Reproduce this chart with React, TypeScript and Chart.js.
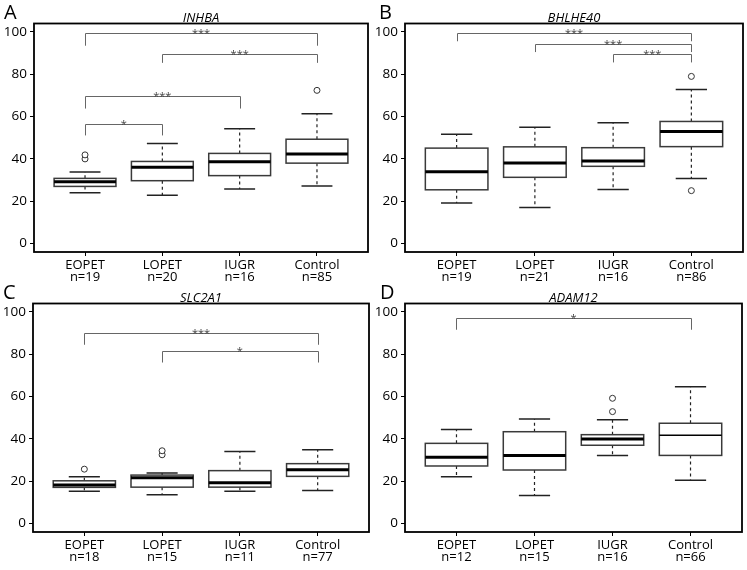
import React, { useEffect, useRef } from 'react';
import { Chart, registerables } from 'chart.js';

Chart.register(...registerables);

const categories = ['EOPET', 'LOPET', 'IUGR', 'Control'];
const yTickValues = [0, 20, 40, 60, 80, 100];

// Panel A — INHBA
const titleA = 'INHBA';
const nA = [19, 20, 16, 85];
const lowA = [24.0, 22.8, 25.8, 27.2];
const q1A = [27.0, 29.7, 32.1, 38.0];
const medA = [29.2, 36.1, 38.7, 42.3];
const q3A = [30.8, 38.8, 42.6, 49.3];
const highA = [33.8, 47.3, 54.3, 61.4];
const outA = [[40.0, 41.9], [], [], [72.4]];
const sigFromA = ['EOPET', 'LOPET', 'EOPET', 'EOPET'];
const sigToA = ['Control', 'Control', 'IUGR', 'LOPET'];
const sigTopA = [99.5, 89.6, 69.6, 56.6];
const sigFootA = [93.5, 85.4, 63.8, 51.1];
const sigLabelA = ['***', '***', '***', '*'];

// Panel B — BHLHE40
const titleB = 'BHLHE40';
const nB = [19, 21, 16, 86];
const lowB = [19.2, 17.0, 25.5, 30.7];
const q1B = [25.4, 31.3, 36.5, 45.8];
const medB = [33.9, 38.1, 39.0, 52.9];
const q3B = [45.1, 45.7, 45.3, 57.7];
const highB = [51.6, 55.0, 57.1, 72.8];
const outB = [[], [], [], [79.0, 25.0]];
const sigFromB = ['EOPET', 'LOPET', 'IUGR'];
const sigToB = ['Control', 'Control', 'Control'];
const sigTopB = [99.5, 94.2, 89.5];
const sigFootB = [95.6, 90.5, 85.6];
const sigLabelB = ['***', '***', '***'];

// Panel C — SLC2A1
const titleC = 'SLC2A1';
const nC = [18, 15, 11, 77];
const lowC = [15.3, 13.6, 15.3, 15.6];
const q1C = [17.1, 17.2, 17.2, 22.3];
const medC = [18.2, 21.6, 19.3, 25.4];
const q3C = [20.2, 22.9, 25.0, 28.3];
const highC = [22.1, 23.9, 34.0, 34.9];
const outC = [[25.7], [32.5, 34.4], [], []];
const sigFromC = ['EOPET', 'LOPET'];
const sigToC = ['Control', 'Control'];
const sigTopC = [90.0, 81.7];
const sigFootC = [84.5, 76.1];
const sigLabelC = ['***', '*'];

// Panel D — ADAM12
const titleD = 'ADAM12';
const nD = [12, 15, 16, 66];
const lowD = [22.1, 13.3, 32.1, 20.5];
const q1D = [27.2, 25.3, 37.0, 32.2];
const medD = [31.3, 32.2, 40.0, 41.7];
const q3D = [37.9, 43.4, 42.0, 47.4];
const highD = [44.5, 49.4, 49.0, 64.6];
const outD = [[], [], [52.9, 59.2], []];
const sigFromD = ['EOPET'];
const sigToD = ['Control'];
const sigTopD = [97.2];
const sigFootD = [91.6];
const sigLabelD = ['*'];

type Panel = {
  letter: string;
  title: string;
  n: number[];
  low: number[];
  q1: number[];
  med: number[];
  q3: number[];
  high: number[];
  out: number[][];
  sigFrom: string[];
  sigTo: string[];
  sigTop: number[];
  sigFoot: number[];
  sigLabel: string[];
};

const panels: Panel[] = [
  { letter: 'A', title: titleA, n: nA, low: lowA, q1: q1A, med: medA, q3: q3A, high: highA, out: outA, sigFrom: sigFromA, sigTo: sigToA, sigTop: sigTopA, sigFoot: sigFootA, sigLabel: sigLabelA },
  { letter: 'B', title: titleB, n: nB, low: lowB, q1: q1B, med: medB, q3: q3B, high: highB, out: outB, sigFrom: sigFromB, sigTo: sigToB, sigTop: sigTopB, sigFoot: sigFootB, sigLabel: sigLabelB },
  { letter: 'C', title: titleC, n: nC, low: lowC, q1: q1C, med: medC, q3: q3C, high: highC, out: outC, sigFrom: sigFromC, sigTo: sigToC, sigTop: sigTopC, sigFoot: sigFootC, sigLabel: sigLabelC },
  { letter: 'D', title: titleD, n: nD, low: lowD, q1: q1D, med: medD, q3: q3D, high: highD, out: outD, sigFrom: sigFromD, sigTo: sigToD, sigTop: sigTopD, sigFoot: sigFootD, sigLabel: sigLabelD },
];

// layout / style (not data)
const layouts = [
  { left: 0, top: 0, width: 373, yW: 34, padR: 5, letterX: 4, medW: [3, 3, 3, 3] },
  { left: 373, top: 0, width: 374, yW: 32, padR: 4, letterX: 6, medW: [3, 3, 3, 3] },
  { left: 0, top: 280, width: 373, yW: 33, padR: 4, letterX: 3, medW: [3, 3, 3, 3] },
  { left: 373, top: 280, width: 374, yW: 32, padR: 5, letterX: 7, medW: [3, 3, 3, 1.6] },
];
const CANVAS_H = 290;
const PAD_T = 23.5;
const X_H = 38;
const FONT = '"Open Sans", "DejaVu Sans", sans-serif';

function makePlugin(p: Panel, lay: typeof layouts[number]) {
  return {
    id: 'boxplot' + p.letter,
    beforeDatasetsDraw(chart: any) {
      const ctx = chart.ctx as CanvasRenderingContext2D;
      const xs = chart.scales.x;
      const ys = chart.scales.y;
      const ux = xs.getPixelForValue(2) - xs.getPixelForValue(1);
      ctx.save();
      categories.forEach((_, i) => {
        const cx = xs.getPixelForValue(i + 1);
        const hw = 0.4 * ux;
        const cw = 0.2 * ux;
        const yLow = ys.getPixelForValue(p.low[i]);
        const yQ1 = ys.getPixelForValue(p.q1[i]);
        const yMed = ys.getPixelForValue(p.med[i]);
        const yQ3 = ys.getPixelForValue(p.q3[i]);
        const yHigh = ys.getPixelForValue(p.high[i]);
        // whiskers
        ctx.strokeStyle = '#222';
        ctx.lineWidth = 1.2;
        ctx.setLineDash([3, 3]);
        ctx.beginPath();
        ctx.moveTo(cx, yQ3);
        ctx.lineTo(cx, yHigh);
        ctx.moveTo(cx, yQ1);
        ctx.lineTo(cx, yLow);
        ctx.stroke();
        ctx.setLineDash([]);
        ctx.lineWidth = 1.5;
        ctx.beginPath();
        ctx.moveTo(cx - cw, yHigh);
        ctx.lineTo(cx + cw, yHigh);
        ctx.moveTo(cx - cw, yLow);
        ctx.lineTo(cx + cw, yLow);
        ctx.stroke();
        // box
        ctx.fillStyle = '#fff';
        ctx.fillRect(cx - hw, yQ3, 2 * hw, yQ1 - yQ3);
        ctx.strokeStyle = '#3a3a3a';
        ctx.lineWidth = 1.5;
        ctx.strokeRect(cx - hw, yQ3, 2 * hw, yQ1 - yQ3);
        // median
        ctx.strokeStyle = '#000';
        ctx.lineWidth = lay.medW[i];
        ctx.beginPath();
        ctx.moveTo(cx - hw, yMed);
        ctx.lineTo(cx + hw, yMed);
        ctx.stroke();
      });
      ctx.restore();
    },
    afterDatasetsDraw(chart: any) {
      const ctx = chart.ctx as CanvasRenderingContext2D;
      const xs = chart.scales.x;
      const ys = chart.scales.y;
      ctx.save();
      p.sigFrom.forEach((from, k) => {
        const x1 = xs.getPixelForValue(categories.indexOf(from) + 1);
        const x2 = xs.getPixelForValue(categories.indexOf(p.sigTo[k]) + 1);
        const yT = Math.round(ys.getPixelForValue(p.sigTop[k])) + 0.5;
        const yF = ys.getPixelForValue(p.sigFoot[k]);
        ctx.strokeStyle = '#666';
        ctx.lineWidth = 1;
        ctx.beginPath();
        ctx.moveTo(Math.round(x1) + 0.5, yF);
        ctx.lineTo(Math.round(x1) + 0.5, yT);
        ctx.lineTo(Math.round(x2) + 0.5, yT);
        ctx.lineTo(Math.round(x2) + 0.5, yF);
        ctx.stroke();
        ctx.fillStyle = '#444';
        ctx.font = '11px ' + FONT;
        ctx.textAlign = 'center';
        ctx.textBaseline = 'alphabetic';
        ctx.fillText(p.sigLabel[k], (x1 + x2) / 2, yT + 3);
      });
      ctx.restore();
    },
    afterDraw(chart: any) {
      const ctx = chart.ctx as CanvasRenderingContext2D;
      const a = chart.chartArea;
      ctx.save();
      ctx.strokeStyle = '#000';
      ctx.lineWidth = 1.8;
      ctx.strokeRect(a.left, a.top, a.right - a.left, a.bottom - a.top);
      ctx.fillStyle = '#000';
      ctx.textBaseline = 'alphabetic';
      ctx.textAlign = 'center';
      ctx.font = 'italic 13px ' + FONT;
      ctx.fillText(p.title, (a.left + a.right) / 2, a.top - 2);
      ctx.textAlign = 'left';
      ctx.font = '20px ' + FONT;
      ctx.fillText(p.letter, lay.letterX, a.top - 4.5);
      ctx.restore();
    },
  };
}

function BoxPanel({ p, lay }: { p: Panel; lay: typeof layouts[number] }) {
  const ref = useRef<HTMLCanvasElement | null>(null);
  useEffect(() => {
    if (!ref.current) return;
    const points: { x: number; y: number }[] = [];
    p.out.forEach((vals, i) => vals.forEach((v) => points.push({ x: i + 1, y: v })));
    const chart = new Chart(ref.current, {
      type: 'scatter',
      data: {
        datasets: [
          {
            data: points,
            pointRadius: 3,
            pointHoverRadius: 3,
            pointBackgroundColor: '#fff',
            pointBorderColor: '#333',
            pointBorderWidth: 1,
            showLine: false,
          },
        ],
      },
      options: {
        animation: false,
        responsive: false,
        devicePixelRatio: 1,
        events: [],
        layout: { padding: { left: 0, top: PAD_T, right: lay.padR, bottom: 0 } },
        plugins: { legend: { display: false }, tooltip: { enabled: false }, title: { display: false } },
        scales: {
          x: {
            type: 'linear',
            min: 0.34,
            max: 4.66,
            afterBuildTicks: (s: any) => {
              s.ticks = categories.map((_, i) => ({ value: i + 1 }));
            },
            afterFit: (s: any) => {
              s.height = X_H;
            },
            border: { display: false },
            grid: { drawOnChartArea: false, drawTicks: true, tickLength: 4, color: '#000', lineWidth: 1 },
            ticks: {
              autoSkip: false,
              maxRotation: 0,
              padding: 3,
              color: '#000',
              font: { family: FONT, size: 13, lineHeight: '12px' as any },
              callback: (v: any) => {
                const i = Math.round(Number(v)) - 1;
                return [categories[i], 'n=' + p.n[i]];
              },
            },
          },
          y: {
            type: 'linear',
            min: -4,
            max: 104,
            afterBuildTicks: (s: any) => {
              s.ticks = yTickValues.map((v) => ({ value: v }));
            },
            afterFit: (s: any) => {
              s.width = lay.yW;
            },
            border: { display: false },
            grid: { drawOnChartArea: false, drawTicks: true, tickLength: 4, color: '#000', lineWidth: 1 },
            ticks: {
              padding: 3,
              color: '#000',
              font: { family: FONT, size: 13.5 },
              callback: (v: any) => String(v),
            },
          },
        },
      },
      plugins: [makePlugin(p, lay)],
    } as any);
    return () => chart.destroy();
  }, [p, lay]);
  return (
    <canvas
      ref={ref}
      width={lay.width}
      height={CANVAS_H}
      style={{ position: 'absolute', left: lay.left, top: lay.top, width: lay.width, height: CANVAS_H }}
    />
  );
}

export default function App() {
  return (
    <div style={{ position: 'absolute', left: 0, top: 0, width: 747, height: 570, background: '#fff', overflow: 'hidden' }}>
      {panels.map((p, i) => (
        <BoxPanel key={p.letter} p={p} lay={layouts[i]} />
      ))}
    </div>
  );
}
